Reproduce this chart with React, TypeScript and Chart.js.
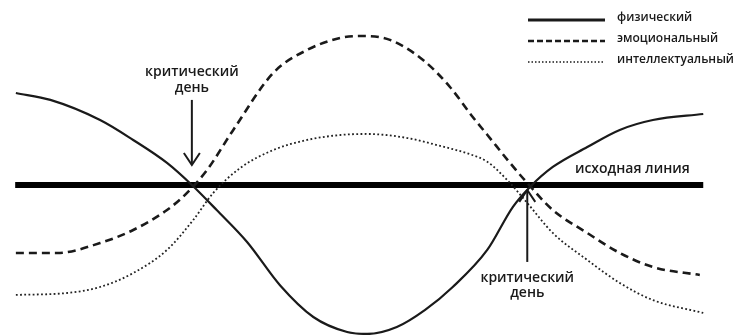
import React, { useEffect, useRef } from "react";
import { Chart, registerables } from "chart.js";

Chart.register(...registerables);

// x = day, y = rhythm level (%)
const physicalDays = [0.3, 5.3, 12.5, 17.3, 22.2, 25.8, 29.4, 33.8, 38.6, 43.4, 48.3, 51.2, 55.5, 59.6, 63.6, 68.6, 72.3, 74.8, 78.1, 83.1, 87.8, 92.6, 99.9];
const physicalValues = [61.3, 56.7, 43.3, 30, 14.7, 0, -16.7, -38, -67, -88, -98, -99.3, -94.7, -83.3, -68, -43.3, -14.7, -1.3, 12, 25.3, 36.7, 43.3, 47.3];

const emotionalDays = [0.3, 6.3, 12.5, 17.3, 22.2, 25.1, 28.0, 31.8, 37.6, 42.5, 47.3, 50.6, 54.5, 59.3, 63.2, 66.5, 68.6, 71.9, 74.4, 78.1, 83.1, 87.8, 92.6, 99.4];
const emotionalValues = [-45.3, -45.3, -38.7, -30, -16.7, -5.3, 10, 36.7, 74.7, 90, 98, 99.3, 96.7, 83.3, 65.3, 45.3, 33.5, 14.7, 1.3, -16.7, -32, -45.3, -54.7, -60];

const intellectualDays = [0.3, 7.7, 12.5, 17.3, 22.2, 26.0, 28.9, 32.8, 37.6, 42.5, 47.3, 51.2, 57.0, 61.8, 66.1, 68.6, 71.5, 74.4, 78.1, 83.1, 87.8, 92.6, 99.9];
const intellectualValues = [-73.3, -72, -68, -58.7, -43.3, -23.3, -5.3, 11.3, 23.3, 30, 33.3, 34, 31.3, 26, 20.5, 15.5, 3.3, -12, -32, -50, -65.3, -76.7, -85.3];

const baselineDays = [0.2, 99.9];
const baselineValues = [0, 0];

const seriesNames = ["физический", "эмоциональный", "интеллектуальный"];
const baselineLabel = "исходная линия";
const criticalLabel = ["критический", "день"];

// critical days: arrow x, arrow tail value, arrow tip value, label values
const criticalDays = [25.8, 74.4];
const arrowTails = [56.7, -51.3];
const arrowTips = [13.3, -3.3];
const criticalLabelValues = [[75.3, 64.7], [-62, -72]];

const baselineLabelDay = 81.3;
const baselineLabelValue = 10.7;

const INK = "#1a1a1a";
const FONT = "'Open Sans', 'Noto Sans', sans-serif";

const toPoints = (xs: number[], ys: number[]) => xs.map((x, i) => ({ x, y: ys[i] }));

const annotationsPlugin = {
  id: "bioAnnotations",
  afterDatasetsDraw(chart: any) {
    const { ctx, scales } = chart;
    const xs = scales.x;
    const ys = scales.y;
    ctx.save();
    ctx.strokeStyle = INK;
    ctx.fillStyle = INK;

    // arrows
    criticalDays.forEach((d, i) => {
      const x = xs.getPixelForValue(d);
      const yTail = ys.getPixelForValue(arrowTails[i]);
      const yTip = ys.getPixelForValue(arrowTips[i]);
      const dir = yTip > yTail ? 1 : -1;
      ctx.lineWidth = 2;
      ctx.setLineDash([]);
      ctx.beginPath();
      ctx.moveTo(x, yTail);
      ctx.lineTo(x, yTip);
      ctx.stroke();
      ctx.beginPath();
      ctx.moveTo(x - 8, yTip - dir * 12);
      ctx.lineTo(x, yTip);
      ctx.lineTo(x + 8, yTip - dir * 12);
      ctx.stroke();

      ctx.font = `600 14px ${FONT}`;
      ctx.textAlign = "center";
      ctx.textBaseline = "middle";
      criticalLabel.forEach((t, j) => {
        ctx.fillText(t, x, ys.getPixelForValue(criticalLabelValues[i][j]));
      });
    });

    // baseline label
    ctx.font = `600 14px ${FONT}`;
    ctx.textAlign = "left";
    ctx.textBaseline = "middle";
    ctx.fillText(baselineLabel, xs.getPixelForValue(baselineLabelDay), ys.getPixelForValue(baselineLabelValue));

    // legend
    const area = chart.chartArea;
    const lineX0 = area.right - 207;
    const lineX1 = area.right - 130;
    const textX = area.right - 118;
    const rows = [20, 41, 62];
    chart.data.datasets.slice(0, 3).forEach((ds: any, i: number) => {
      const y = area.top + rows[i];
      ctx.strokeStyle = INK;
      ctx.lineWidth = i === 0 ? 3 : i === 1 ? 2.5 : 1.6;
      ctx.setLineDash(i === 0 ? [] : i === 1 ? [6, 3] : [1.5, 2]);
      ctx.beginPath();
      ctx.moveTo(lineX0, y);
      ctx.lineTo(lineX1, y);
      ctx.stroke();
      ctx.setLineDash([]);
      ctx.font = `600 12px ${FONT}`;
      ctx.textAlign = "left";
      ctx.textBaseline = "middle";
      ctx.fillText(seriesNames[i], textX, y - 2);
    });
    ctx.restore();
  },
};

export default function App() {
  const ref = useRef<HTMLCanvasElement | null>(null);
  useEffect(() => {
    if (!ref.current) return;
    const chart = new Chart(ref.current, {
      type: "line",
      data: {
        datasets: [
          {
            label: seriesNames[0],
            data: toPoints(physicalDays, physicalValues),
            borderColor: INK,
            borderWidth: 2.2,
            cubicInterpolationMode: "monotone",
            pointRadius: 0,
          },
          {
            label: seriesNames[1],
            data: toPoints(emotionalDays, emotionalValues),
            borderColor: INK,
            borderWidth: 2.6,
            borderDash: [8, 5],
            cubicInterpolationMode: "monotone",
            pointRadius: 0,
          },
          {
            label: seriesNames[2],
            data: toPoints(intellectualDays, intellectualValues),
            borderColor: "#222",
            borderWidth: 1.8,
            borderDash: [1.8, 2.4],
            cubicInterpolationMode: "monotone",
            pointRadius: 0,
          },
          {
            label: baselineLabel,
            data: toPoints(baselineDays, baselineValues),
            borderColor: "#000",
            borderWidth: 6,
            borderCapStyle: "butt",
            pointRadius: 0,
          },
        ],
      },
      options: {
        animation: false,
        responsive: false,
        devicePixelRatio: 1,
        layout: { padding: 0 },
        clip: false as any,
        plugins: {
          legend: { display: false },
          tooltip: { enabled: false },
        },
        scales: {
          x: { type: "linear", min: -2, max: 104.5, display: false },
          y: { type: "linear", min: -100, max: 123.3, display: false },
        },
      },
      plugins: [annotationsPlugin],
    });
    return () => chart.destroy();
  }, []);
  return (
    <div style={{ position: "fixed", left: 0, top: 0, width: 735, height: 335, background: "#fff" }}>
      <canvas ref={ref} width={735} height={335} />
    </div>
  );
}
